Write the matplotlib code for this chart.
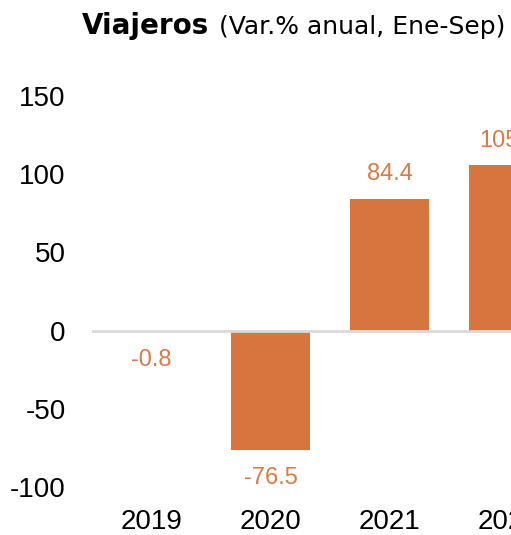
import matplotlib.pyplot as plt

plt.rcParams["axes.unicode_minus"] = False

years = ["2019", "2020", "2021", "2022"]
values = [-0.8, -76.5, 84.4, 105.6]
labels = ["-0.8", "-76.5", "84.4", "105.6"]

bar_color = "#D8743D"
label_color = "#DB7A44"

fig = plt.figure(figsize=(5.11, 5.35), dpi=100)
# axes run past the right edge, like the cropped original
ax = fig.add_axes([92 / 511, 48 / 535, 476 / 511, 391 / 535])

x = range(len(years))
ax.bar(x, values, width=0.664, color=bar_color, zorder=1)
ax.axhline(0, color="#D9D9D9", lw=2, zorder=2)

for i, (v, t) in enumerate(zip(values, labels)):
    off = 10 if v >= 0 else -12
    ax.annotate(t, (i, v), xytext=(0, off), textcoords="offset points",
                ha="center", va="bottom" if v >= 0 else "top",
                color=label_color, fontsize=17, family="Liberation Sans")

ax.set_xlim(-0.5, 3.5)
ax.set_ylim(-100, 150)
ax.set_yticks([-100, -50, 0, 50, 100, 150])
ax.set_xticks(list(x))
ax.set_xticklabels(years)
for s in ax.spines.values():
    s.set_visible(False)
ax.tick_params(axis="y", length=0, pad=19, labelsize=20)
ax.tick_params(axis="x", length=0, pad=16, labelsize=20)
for lab in ax.get_xticklabels() + ax.get_yticklabels():
    lab.set_family("Liberation Sans")

fig.text(82 / 511, 1 - 26 / 535, "Viajeros", fontsize=20, fontweight="bold",
         ha="left", va="center", family="DejaVu Sans")
fig.text(505 / 511, 1 - 27 / 535, "(Var.% anual, Ene-Sep)", fontsize=18,
         ha="right", va="center", family="DejaVu Sans")

fig.savefig("out.png", dpi=100)
